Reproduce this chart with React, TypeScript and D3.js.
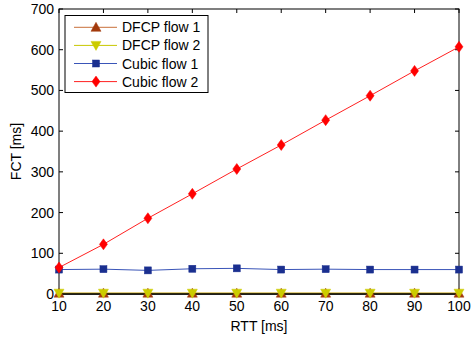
import React from 'react'
import * as d3 from 'd3'

const rtt = [10, 20, 30, 40, 50, 60, 70, 80, 90, 100]
const dfcp1 = [2, 2, 2, 2, 2, 2, 2, 2, 2, 2]
const dfcp2 = [2, 2, 2, 2, 2, 2, 2, 2, 2, 2]
const cubic1 = [60, 61, 58, 62, 63, 60, 61, 60, 60, 60]
const cubic2 = [65, 122, 186, 246, 307, 366, 427, 487, 548, 607]
const xTicks = [10, 20, 30, 40, 50, 60, 70, 80, 90, 100]
const yTicks = [0, 100, 200, 300, 400, 500, 600, 700]

const series = [
  { name: 'DFCP flow 1', values: dfcp1, line: '#c8703a', fill: '#a33a0c', marker: 'up' },
  { name: 'DFCP flow 2', values: dfcp2, line: '#c8c800', fill: '#cccc00', marker: 'down' },
  { name: 'Cubic flow 1', values: cubic1, line: '#3a55b8', fill: '#1a2f8f', marker: 'square' },
  { name: 'Cubic flow 2', values: cubic2, line: '#ff2020', fill: '#ff0000', marker: 'diamond' },
]

const W = 471
const H = 340
const m = { left: 59, right: 12, top: 9, bottom: 46 }
const font = 'Liberation Sans, Arial, Helvetica, sans-serif'

function Marker({ kind, x, y, color }: { kind: string; x: number; y: number; color: string }) {
  if (kind === 'up') {
    return <path d={`M${x},${y - 5}L${x + 5},${y + 4}L${x - 5},${y + 4}Z`} fill={color} stroke={color} strokeWidth={0.5} />
  }
  if (kind === 'down') {
    return <path d={`M${x},${y + 5}L${x + 5},${y - 4}L${x - 5},${y - 4}Z`} fill={color} stroke={color} strokeWidth={0.5} />
  }
  if (kind === 'square') {
    return <rect x={x - 3.5} y={y - 3.5} width={7} height={7} fill={color} stroke={color} strokeWidth={0.5} />
  }
  return <path d={`M${x},${y - 5.5}L${x + 4},${y}L${x},${y + 5.5}L${x - 4},${y}Z`} fill={color} stroke={color} strokeWidth={0.5} />
}

export default function App() {
  const x = d3.scaleLinear().domain([10, 100]).range([m.left, W - m.right])
  const y = d3.scaleLinear().domain([0, 700]).range([H - m.bottom, m.top])
  const line = d3
    .line<number>()
    .x((_, i) => x(rtt[i]))
    .y((d) => y(d))

  const x0 = x.range()[0]
  const x1 = x.range()[1]
  const y0 = y.range()[0]
  const y1 = y.range()[1]
  const tl = 4

  return (
    <svg width={W} height={H} style={{ position: 'absolute', left: 0, top: 0, background: '#fff' }} fontFamily={font}>
      <rect width={W} height={H} fill="#fff" />
      <rect x={x0} y={y1} width={x1 - x0} height={y0 - y1} fill="none" stroke="#000" strokeWidth={1} />
      {xTicks.map((t) => (
        <g key={t}>
          <line x1={x(t)} x2={x(t)} y1={y0} y2={y0 - tl} stroke="#000" />
          <line x1={x(t)} x2={x(t)} y1={y1} y2={y1 + tl} stroke="#000" />
          <text x={x(t)} y={y0 + 17} textAnchor="middle" fontSize={14}>
            {t}
          </text>
        </g>
      ))}
      {yTicks.map((t) => (
        <g key={t}>
          <line x1={x0} x2={x0 + tl} y1={y(t)} y2={y(t)} stroke="#000" />
          <line x1={x1} x2={x1 - tl} y1={y(t)} y2={y(t)} stroke="#000" />
          <text x={x0 - 5} y={y(t) + 5} textAnchor="end" fontSize={14}>
            {t}
          </text>
        </g>
      ))}
      {series.map((s) => (
        <g key={s.name}>
          <path d={line(s.values) || ''} fill="none" stroke={s.line} strokeWidth={1} />
        </g>
      ))}
      <line x1={x0} x2={x1} y1={y0} y2={y0} stroke="#000" strokeWidth={1.5} />
      {series.map((s) => (
        <g key={s.name + '-m'}>
          {s.values.map((v, i) => (
            <Marker key={i} kind={s.marker} x={x(rtt[i])} y={y(v)} color={s.fill} />
          ))}
        </g>
      ))}
      <text x={(x0 + x1) / 2} y={331} textAnchor="middle" fontSize={14}>
        RTT [ms]
      </text>
      <text transform={`translate(21,${(y0 + y1) / 2}) rotate(-90)`} textAnchor="middle" fontSize={14}>
        FCT [ms]
      </text>
      <g>
        <rect x={65} y={15.5} width={143} height={77} fill="#fff" stroke="#000" strokeWidth={1} />
        {series.map((s, i) => {
          const ly = 27.3 + i * 18.1
          return (
            <g key={s.name}>
              <line x1={74} x2={117} y1={ly} y2={ly} stroke={s.line} strokeWidth={1} />
              <Marker kind={s.marker} x={96} y={ly} color={s.fill} />
              <text x={122} y={ly + 5} fontSize={14}>
                {s.name}
              </text>
            </g>
          )
        })}
      </g>
    </svg>
  )
}
